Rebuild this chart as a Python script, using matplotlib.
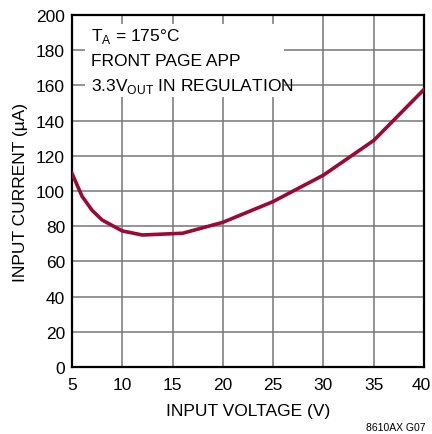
import matplotlib.pyplot as plt
from matplotlib.patches import Rectangle
from matplotlib.transforms import ScaledTranslation

plt.rcParams['font.family'] = ['Liberation Sans', 'DejaVu Sans']

vin = [5, 6, 7, 8, 10, 12, 16, 20, 25, 30, 35, 40]
iin = [110, 97, 89, 83.5, 77.3, 75, 76, 82.2, 94, 109, 128.7, 157.7]

x_ticks = [5, 10, 15, 20, 25, 30, 35, 40]
y_ticks = list(range(0, 201, 20))

note_lines = ['T$_\\mathregular{A}$ = 175°C',
              'FRONT PAGE APP',
              '3.3V$_\\mathregular{OUT}$ IN REGULATION']

W, H = 432, 435
fig = plt.figure(figsize=(W / 100, H / 100), dpi=100)
ax = fig.add_axes([72 / W, 1 - 368 / H, 352 / W, 352 / H])

ax.plot(vin, iin, color='#990a35', lw=2.6, solid_joinstyle='round', zorder=3)

ax.set_xlim(5, 40)
ax.set_ylim(0, 200)
ax.set_xticks(x_ticks)
ax.set_yticks(y_ticks)
ax.tick_params(length=0, labelsize=12.5)
ax.tick_params(axis='x', pad=7)
ax.tick_params(axis='y', pad=5)
ax.grid(True, color='#777777', lw=1.1)
for s in ax.spines.values():
    s.set_linewidth(1.6)

# last x label sits right at the figure edge; pull it in a touch
last = ax.get_xticklabels()[-1]
last.set_transform(last.get_transform() + ScaledTranslation(-3 / 100, 0, fig.dpi_scale_trans))

ax.set_xlabel('INPUT VOLTAGE (V)', fontsize=12.5, labelpad=8)
ax.set_ylabel('INPUT CURRENT (µA)', fontsize=12.5, labelpad=6)

# white panel behind the note, in pixel coords of the figure
to_ax = lambda px, py: ((px - 72) / 352, (368 - py) / 352)
x0, y0 = to_ax(85, 98)
x1, y1 = to_ax(284, 25)
ax.add_patch(Rectangle((x0, y0), x1 - x0, y1 - y0, transform=ax.transAxes,
                       facecolor='white', edgecolor='none', zorder=2.5))
for i, line in enumerate(note_lines):
    tx, ty = to_ax(91, 36 + 25 * i)
    ax.text(tx, ty, line, transform=ax.transAxes, fontsize=12.5,
            va='center', ha='left', zorder=4)

fig.text(426 / W, 1 - 428 / H, '8610AX G07', fontsize=7.5, ha='right', va='center')

fig.savefig('out.png', dpi=100)
